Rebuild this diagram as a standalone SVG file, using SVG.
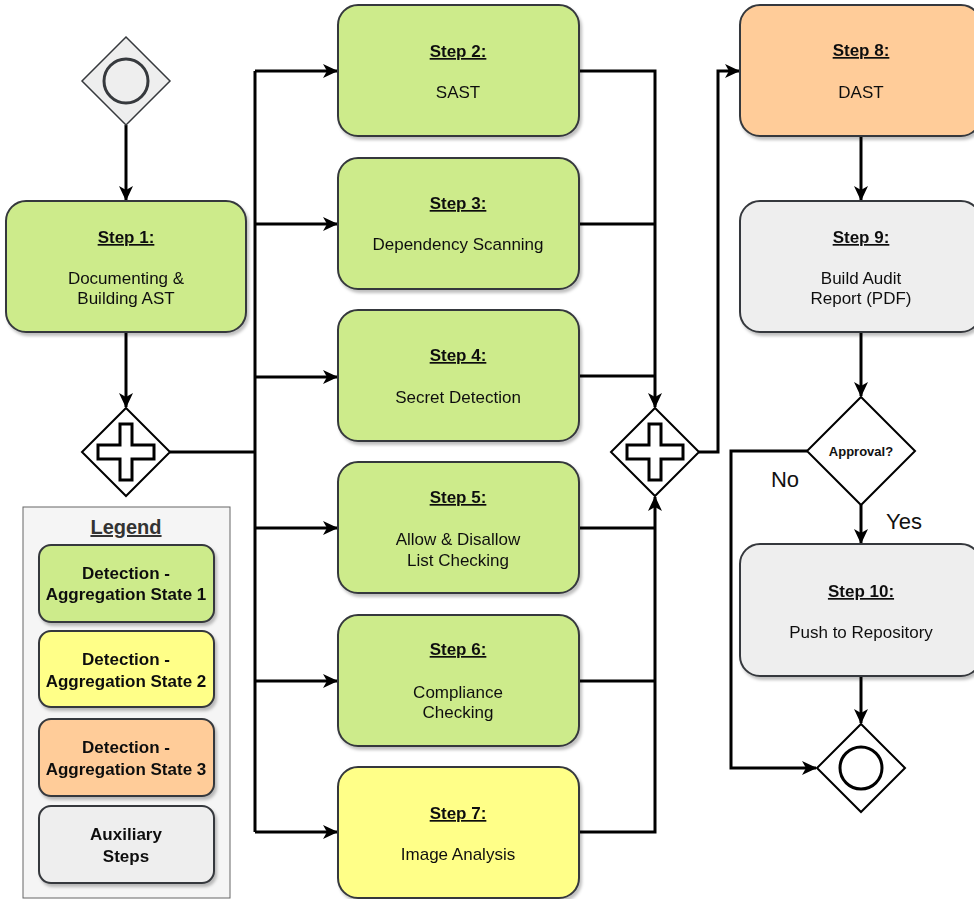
<svg xmlns="http://www.w3.org/2000/svg" width="974" height="899" viewBox="0 0 974 899">
<style>
.box{stroke:#36393d;stroke-width:2}
.g1{fill:#cdeb8b}.g2{fill:#ffff88}.g3{fill:#ffcc99}.aux{fill:#eeeeee}
.t{font-family:"Liberation Sans",Arial,sans-serif;font-size:17px;fill:#111;text-anchor:middle}
.ti{font-weight:bold;text-decoration:underline}
.lb{font-family:"Liberation Sans",Arial,sans-serif;font-size:17px;font-weight:bold;fill:#111;text-anchor:middle}
.con{fill:none;stroke:#000;stroke-width:3}
.arr{marker-end:url(#ah)}
.gw{fill:#fff;stroke:#000;stroke-width:2}
</style>
<defs>
<marker id="ah" viewBox="0 0 15 14" refX="14" refY="7" markerWidth="15" markerHeight="14" markerUnits="userSpaceOnUse" orient="auto">
<path d="M0,0 L15,7 L0,14 L4,7 z" fill="#000"/>
</marker>
<filter id="sh" x="-10%" y="-10%" width="130%" height="130%">
<feDropShadow dx="2" dy="3" stdDeviation="1.5" flood-color="#000" flood-opacity="0.25"/>
</filter>
</defs>

<g id="connectors">
<path class="con arr" d="M126,125 V200"/>
<path class="con arr" d="M126,332 V407"/>
<path class="con" d="M170,452 H255"/>
<path class="con" d="M255,71 V832"/>
<path class="con arr" d="M255,71 H337"/>
<path class="con arr" d="M255,224 H337"/>
<path class="con arr" d="M255,377 H337"/>
<path class="con arr" d="M255,528 H337"/>
<path class="con arr" d="M255,681 H337"/>
<path class="con arr" d="M255,832 H337"/>
<path class="con arr" d="M579,71 H655 V407"/>
<path class="con" d="M579,224 H655"/>
<path class="con" d="M579,376 H655"/>
<path class="con" d="M579,528 H655"/>
<path class="con" d="M579,681 H655"/>
<path class="con arr" d="M579,832 H655 V497"/>
<path class="con arr" d="M699,452 H718 V71 H739"/>
<path class="con arr" d="M861,136 V200"/>
<path class="con arr" d="M861,332 V396"/>
<path class="con arr" d="M807,451 H731 V768 H816"/>
<path class="con arr" d="M861,505 V543"/>
<path class="con arr" d="M861,676 V723"/>
<text x="785" y="487" font-family="Liberation Sans,Arial,sans-serif" font-size="22" text-anchor="middle" fill="#111">No</text>
<text x="904" y="529" font-family="Liberation Sans,Arial,sans-serif" font-size="22" text-anchor="middle" fill="#111">Yes</text>
</g>

<g id="start">
<path d="M126,37 L170,81 L126,125 L82,81 Z" fill="#eeeeee" stroke="#36393d" stroke-width="1.5"/>
<circle cx="126" cy="81" r="22" fill="#eeeeee" stroke="#36393d" stroke-width="3"/>
</g>

<g id="step1" filter="url(#sh)">
<rect class="box g1" x="6" y="201" width="240" height="131" rx="20"/>
<text class="t ti" x="126" y="243">Step 1:</text>
<text class="t" x="126" y="284">Documenting &amp;</text>
<text class="t" x="126" y="304">Building AST</text>
</g>

<g id="fork">
<path class="gw" d="M126,408 L170,452 L126,496 L82,452 Z"/>
<path d="M120,424 H132 V445 H154 V459 H132 V480 H120 V459 H98 V445 H120 Z" fill="#fff" stroke="#000" stroke-width="3"/>
</g>

<g id="step2" filter="url(#sh)">
<rect class="box g1" x="338" y="5" width="241" height="131" rx="20"/>
<text class="t ti" x="458" y="57">Step 2:</text>
<text class="t" x="458" y="98">SAST</text>
</g>
<g id="step3" filter="url(#sh)">
<rect class="box g1" x="338" y="158" width="241" height="131" rx="20"/>
<text class="t ti" x="458" y="209">Step 3:</text>
<text class="t" x="458" y="250">Dependency Scanning</text>
</g>
<g id="step4" filter="url(#sh)">
<rect class="box g1" x="338" y="310" width="241" height="131" rx="20"/>
<text class="t ti" x="458" y="361">Step 4:</text>
<text class="t" x="458" y="403">Secret Detection</text>
</g>
<g id="step5" filter="url(#sh)">
<rect class="box g1" x="338" y="462" width="241" height="131" rx="20"/>
<text class="t ti" x="458" y="503">Step 5:</text>
<text class="t" x="458" y="545">Allow &amp; Disallow</text>
<text class="t" x="458" y="566">List Checking</text>
</g>
<g id="step6" filter="url(#sh)">
<rect class="box g1" x="338" y="615" width="241" height="131" rx="20"/>
<text class="t ti" x="458" y="655">Step 6:</text>
<text class="t" x="458" y="698">Compliance</text>
<text class="t" x="458" y="718">Checking</text>
</g>
<g id="step7" filter="url(#sh)">
<rect class="box g2" x="338" y="767" width="241" height="131" rx="20"/>
<text class="t ti" x="458" y="819">Step 7:</text>
<text class="t" x="458" y="860">Image Analysis</text>
</g>

<g id="join">
<path class="gw" d="M655,408 L699,452 L655,496 L611,452 Z"/>
<path d="M649,424 H661 V445 H683 V459 H661 V480 H649 V459 H627 V445 H649 Z" fill="#fff" stroke="#000" stroke-width="3"/>
</g>

<g id="step8" filter="url(#sh)">
<rect class="box g3" x="740" y="5" width="241" height="131" rx="20"/>
<text class="t ti" x="861" y="56">Step 8:</text>
<text class="t" x="861" y="98">DAST</text>
</g>
<g id="step9" filter="url(#sh)">
<rect class="box aux" x="740" y="201" width="241" height="131" rx="20"/>
<text class="t ti" x="861" y="243">Step 9:</text>
<text class="t" x="861" y="284">Build Audit</text>
<text class="t" x="861" y="304">Report (PDF)</text>
</g>

<g id="approval">
<path class="gw" d="M861,397 L915,451 L861,505 L807,451 Z"/>
<text x="861" y="456" font-family="Liberation Sans,Arial,sans-serif" font-size="13" font-weight="bold" text-anchor="middle" fill="#111">Approval?</text>
</g>

<g id="step10" filter="url(#sh)">
<rect class="box aux" x="740" y="544" width="241" height="132" rx="20"/>
<text class="t ti" x="861" y="597">Step 10:</text>
<text class="t" x="861" y="638">Push to Repository</text>
</g>

<g id="end">
<path class="gw" d="M861,724 L905,768 L861,812 L817,768 Z"/>
<circle cx="861" cy="768" r="21" fill="#fff" stroke="#000" stroke-width="3"/>
</g>

<g id="legend">
<rect x="23" y="507" width="207" height="391" fill="#f5f5f5" stroke="#666" stroke-width="1"/>
<text x="126" y="534" font-family="Liberation Sans,Arial,sans-serif" font-size="20" font-weight="bold" text-decoration="underline" text-anchor="middle" fill="#333">Legend</text>
<g filter="url(#sh)">
<rect class="box g1" x="39" y="545" width="175" height="77" rx="12"/>
<text class="lb" x="126" y="579">Detection -</text>
<text class="lb" x="126" y="600">Aggregation State 1</text>
</g>
<g filter="url(#sh)">
<rect class="box g2" x="39" y="631" width="175" height="76" rx="12"/>
<text class="lb" x="126" y="665">Detection -</text>
<text class="lb" x="126" y="687">Aggregation State 2</text>
</g>
<g filter="url(#sh)">
<rect class="box g3" x="39" y="719" width="175" height="77" rx="12"/>
<text class="lb" x="126" y="753">Detection -</text>
<text class="lb" x="126" y="775">Aggregation State 3</text>
</g>
<g filter="url(#sh)">
<rect class="box aux" x="39" y="806" width="175" height="77" rx="12"/>
<text class="lb" x="126" y="840">Auxiliary</text>
<text class="lb" x="126" y="862">Steps</text>
</g>
</g>
</svg>
